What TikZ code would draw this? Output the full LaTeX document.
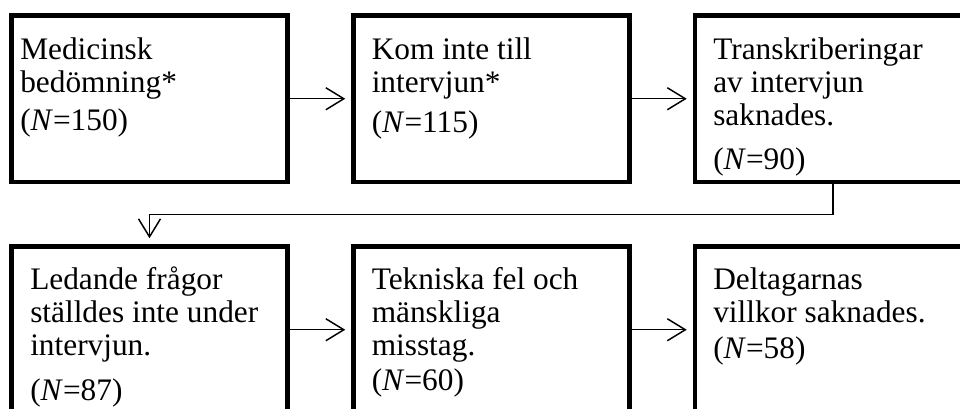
\documentclass[tikz,border=0pt]{standalone}
\usepackage{fontspec}
\setmainfont{Liberation Serif}
\usetikzlibrary{arrows.meta}

\newcommand{\boxtxt}[1]{\parbox[t]{230pt}{\raggedright #1}}

\begin{document}
\begin{tikzpicture}
        [x=0.75pt,y=-0.75pt,
         stage/.style={draw,line width=3.4pt,minimum width=207pt,minimum height=124.875pt,inner sep=0pt},
         stagetext/.style={anchor=base west,inner sep=0pt,font=\fontsize{23.5}{24.5}\selectfont},
         flow/.style={-{Straight Barb[length=13.5pt,width=16.5pt]},line width=1.1pt,shorten >=4.5pt}]
        \useasboundingbox (0,0) rectangle (960,409);
        \clip (0,0) rectangle (960,409);

        % top row
        \node[stage] (b1) at (149.5,98.75) {};
        \node[stage] (b2) at (491.5,98.75) {};
        \node[stage] (b3) at (833,98.75) {};
        % bottom row
        \node[stage] (b4) at (149.5,329.75) {};
        \node[stage] (b5) at (491.5,329.75) {};
        \node[stage] (b6) at (833,329.75) {};

        \node[stagetext] (t1) at (20,59.5) {\boxtxt{Medicinsk\\bedömning*\\[4.2pt](\textit{N}=150)}};
        \node[stagetext] (t2) at (371.5,60) {\boxtxt{Kom inte till\\intervjun*\\[5.5pt](\textit{N}=115)}};
        \node[stagetext] (t3) at (713,60) {\boxtxt{Transkriberingar\\av intervjun\\saknades.\\[8.5pt](\textit{N}=90)}};
        \node[stagetext] (t4) at (30,290) {\boxtxt{Ledande frågor\\ställdes inte under\\intervjun.\\[9.75pt](\textit{N}=87)}};
        \node[stagetext] (t5) at (371.5,290) {\boxtxt{Tekniska fel och\\mänskliga\\misstag.\\[2.25pt](\textit{N}=60)}};
        \node[stagetext] (t6) at (713,290) {\boxtxt{Deltagarnas\\villkor saknades.\\[2.25pt](\textit{N}=58)}};

        \draw[flow] (b1) -- (b2);
        \draw[flow] (b2) -- (b3);
        \draw[flow] (b3.south) -- ++(0,30.5) -| (b4.north);
        \draw[flow] (b4) -- (b5);
        \draw[flow] (b5) -- (b6);
      \end{tikzpicture}
\end{document}
